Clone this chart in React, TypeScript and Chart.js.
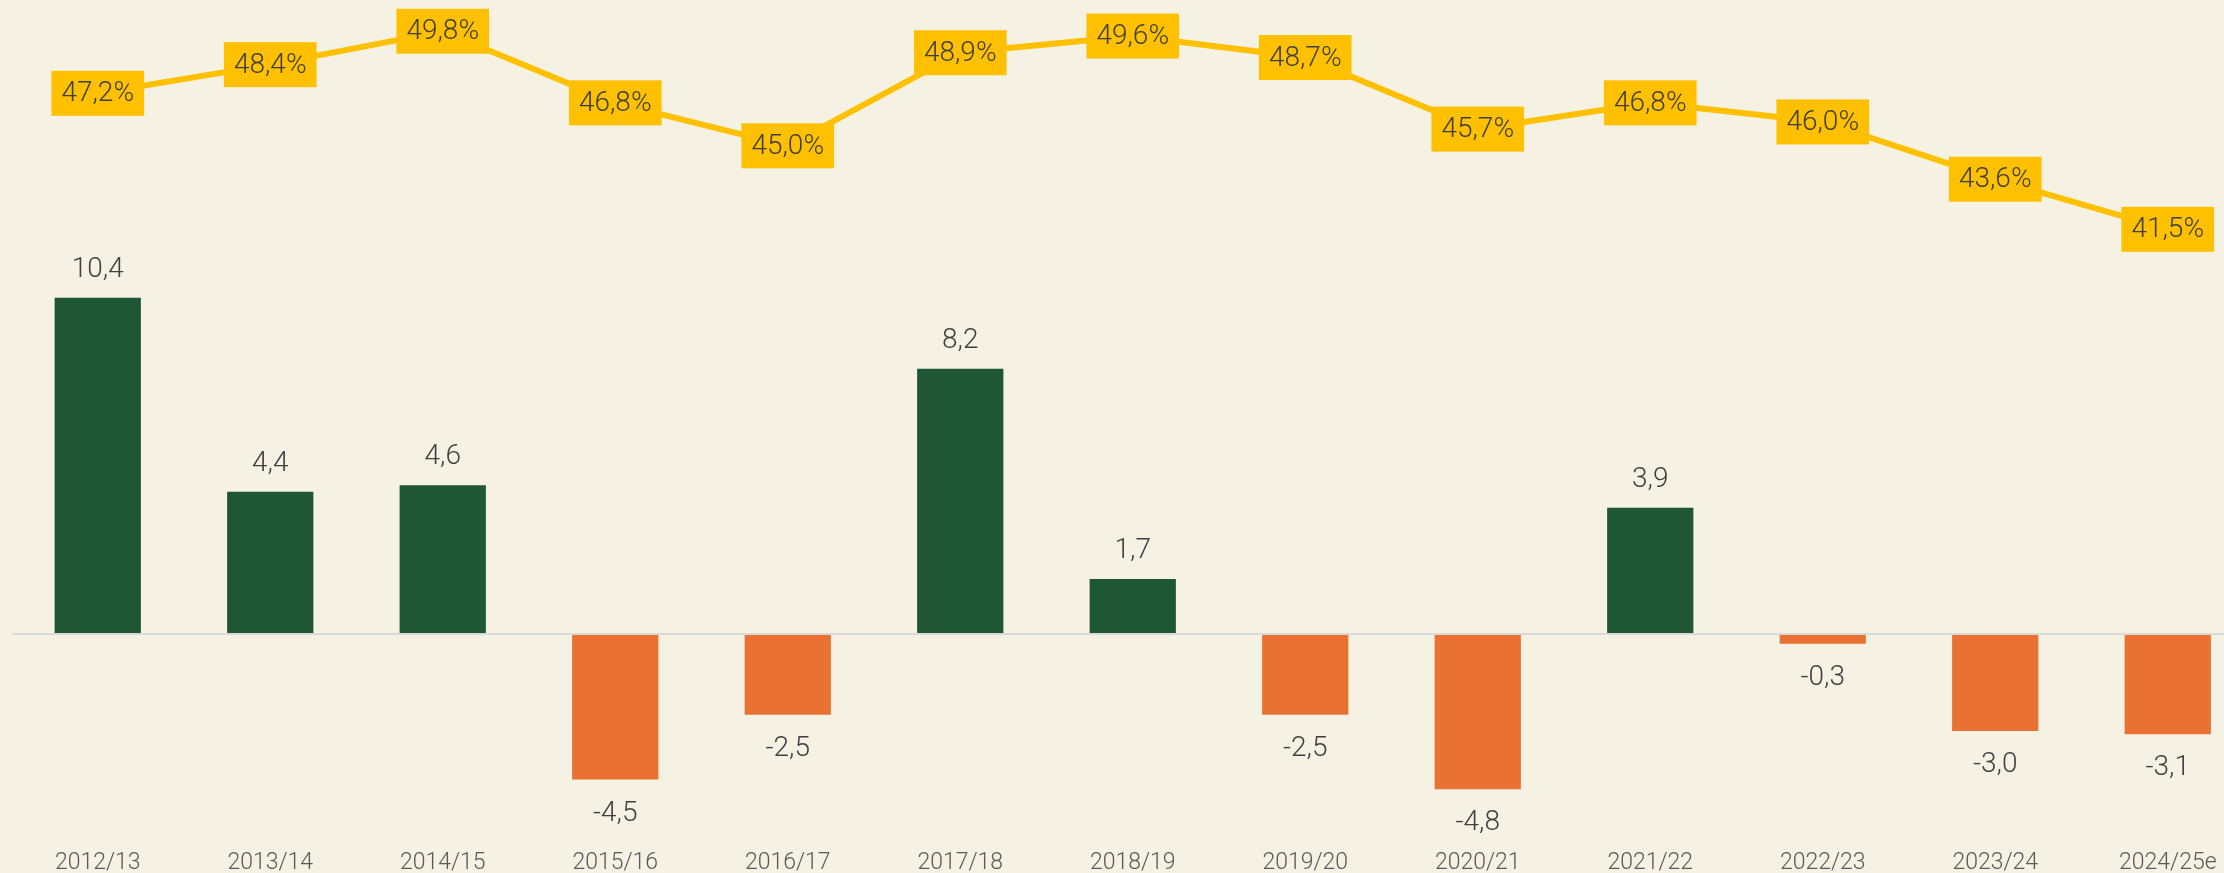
import React, { useEffect, useRef } from "react";
import { Chart, registerables } from "chart.js";

Chart.register(...registerables);

const categories = [
  "2012/13", "2013/14", "2014/15", "2015/16", "2016/17", "2017/18", "2018/19",
  "2019/20", "2020/21", "2021/22", "2022/23", "2023/24", "2024/25e",
];
const balance = [10.4, 4.4, 4.6, -4.5, -2.5, 8.2, 1.7, -2.5, -4.8, 3.9, -0.3, -3.0, -3.1];
const share = [47.2, 48.4, 49.8, 46.8, 45.0, 48.9, 49.6, 48.7, 45.7, 46.8, 46.0, 43.6, 41.5];

const FONT = 'Roboto, "Liberation Sans", sans-serif';
const BG = "#F5F1E3";
const GREEN = "#1F5736";
const ORANGE = "#E97132";
const YELLOW = "#FFC000";
const TEXT = "#404040";

const fmt = (v: number) => v.toFixed(1).replace(".", ",");

const CANVAS_W = 2254;
const CANVAS_H = 873;
const AREA_BOTTOM = 838;

const bgPlugin = {
  id: "bg",
  beforeDraw(chart: any) {
    const c = chart.ctx;
    c.save();
    c.fillStyle = BG;
    c.fillRect(0, 0, chart.width, chart.height);
    c.restore();
  },
};

const labelPlugin = {
  id: "valueLabels",
  afterDatasetsDraw(chart: any) {
    const c = chart.ctx;
    c.save();
    c.font = `300 28px ${FONT}`;
    c.textAlign = "center";
    c.textBaseline = "middle";
    const barMeta = chart.getDatasetMeta(0);
    barMeta.data.forEach((el: any, i: number) => {
      const v = balance[i];
      const y = v >= 0 ? el.y - 28 : el.y + 34;
      c.fillStyle = TEXT;
      c.fillText(fmt(v), el.x, y);
    });
    const lineMeta = chart.getDatasetMeta(1);
    lineMeta.data.forEach((pt: any, i: number) => {
      const txt = fmt(share[i]) + "%";
      const w = c.measureText(txt).width + 20;
      const h = 45;
      c.fillStyle = YELLOW;
      c.fillRect(pt.x - w / 2, pt.y - h / 2, w, h);
      c.fillStyle = TEXT;
      c.fillText(txt, pt.x, pt.y + 1);
    });
    c.restore();
  },
};

export default function App() {
  const ref = useRef<HTMLCanvasElement | null>(null);

  useEffect(() => {
    if (!ref.current) return;
    const chart = new Chart(ref.current, {
      type: "bar",
      data: {
        labels: categories,
        datasets: [
          {
            type: "bar",
            data: balance,
            backgroundColor: balance.map((v) => (v >= 0 ? GREEN : ORANGE)),
            barPercentage: 0.5,
            categoryPercentage: 1,
            yAxisID: "y",
            order: 2,
          } as any,
          {
            type: "line",
            data: share,
            borderColor: YELLOW,
            borderWidth: 6,
            pointRadius: 0,
            tension: 0,
            yAxisID: "y2",
            order: 1,
          } as any,
        ],
      },
      options: {
        animation: false,
        responsive: false,
        maintainAspectRatio: false,
        layout: { padding: { left: 11.5, right: 0, top: 0, bottom: 0 } },
        plugins: { legend: { display: false }, tooltip: { enabled: false } },
        scales: {
          x: {
            grid: { display: false, drawTicks: false },
            border: { display: false },
            ticks: {
              font: { family: FONT, size: 23, weight: "300" },
              color: "#595959",
              padding: 11,
              maxRotation: 0,
              autoSkip: false,
            },
            afterFit: (s: any) => {
              s.height = CANVAS_H - AREA_BOTTOM;
            },
          },
          y: {
            min: -6.308,
            max: 19.604,
            ticks: { display: false },
            grid: { color: "#D9D9D9", lineWidth: 2, drawTicks: false },
            border: { display: false },
            afterBuildTicks: (s: any) => {
              s.ticks = [{ value: 0 }];
            },
            afterFit: (s: any) => {
              s.width = 0;
            },
          },
          y2: {
            display: false,
            position: "right",
            min: 15.99,
            max: 51.11,
          },
        },
      } as any,
      plugins: [bgPlugin, labelPlugin],
    });
    return () => chart.destroy();
  }, []);

  return (
    <div
      style={{
        position: "absolute",
        left: 0,
        top: 0,
        width: 2224,
        height: 873,
        overflow: "hidden",
        background: BG,
      }}
    >
      <canvas ref={ref} width={CANVAS_W} height={CANVAS_H} style={{ display: "block" }} />
    </div>
  );
}
